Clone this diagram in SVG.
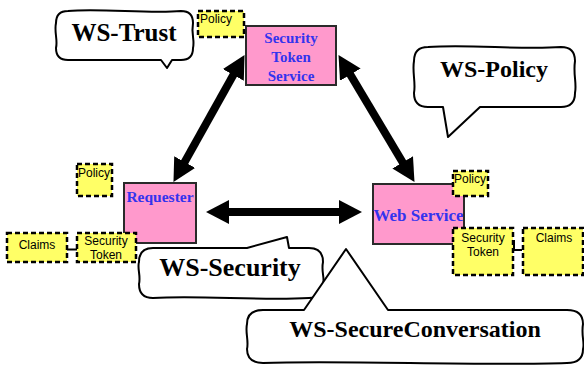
<svg xmlns="http://www.w3.org/2000/svg" width="584" height="365" viewBox="0 0 584 365">
  <defs>
    <marker id="head" viewBox="0 0 24 24" markerWidth="24" markerHeight="24" refX="1" refY="12" orient="auto-start-reverse" markerUnits="userSpaceOnUse">
      <path d="M0,0 L23,12 L0,24 Z" fill="#000"/>
    </marker>
    <style>
      .bubble { fill: #fff; stroke: #000; stroke-width: 2; stroke-linejoin: round; }
      .bubble-text { font-family: "Liberation Serif", "Times New Roman", serif; font-weight: bold; fill: #000; text-anchor: middle; }
      .node { fill: #ff99cc; stroke: #2a2a2a; stroke-width: 2; }
      .node-text { font-family: "Liberation Serif", "Times New Roman", serif; font-weight: bold; fill: #3333ee; text-anchor: middle; }
      .note { fill: #ffff66; stroke: #000; stroke-width: 2.5; stroke-dasharray: 5 3; }
      .note-text { font-family: "Liberation Sans", Arial, sans-serif; font-size: 12px; fill: #000; }
      .mid { text-anchor: middle; }
      .link { stroke: #000; stroke-width: 8; fill: none; marker-start: url(#head); marker-end: url(#head); }
      .tie { stroke: #000; stroke-width: 2; fill: none; }
    </style>
  </defs>

  <!-- speech bubbles naming the specifications -->
  <g id="ws-trust">
    <path class="bubble" d="M68,11 C100,8 150,14 181,11 Q193,11 193,23 C191,35 195,40 193,48 Q193,60 181,60 L172,60 L167,68 L161,60 L68,60 Q56,60 56,48 C58,40 54,32 56,23 Q56,11 68,11 Z"/>
    <text class="bubble-text" x="124" y="41" font-size="25">WS-Trust</text>
  </g>
  <g id="ws-policy">
    <path class="bubble" d="M428,47 C470,44 520,50 561,47 Q575,47 575,61 C573,75 577,83 575,93 Q575,107 561,107 L480,107 L448,137 L443,107 L428,107 Q414,107 414,93 C416,83 412,72 414,61 Q414,47 428,47 Z"/>
    <text class="bubble-text" x="494" y="77" font-size="24">WS-Policy</text>
  </g>
  <g id="ws-security">
    <path class="bubble" d="M153,248 L247,248 L287,237 L289,248 L309,248 Q323,248 323,262 C321,272 325,278 323,284 Q323,298 309,298 C260,301 200,295 153,298 Q139,298 139,284 C141,276 137,268 139,262 Q139,248 153,248 Z"/>
    <text class="bubble-text" x="230" y="276" font-size="26">WS-Security</text>
  </g>
  <g id="ws-secureconversation">
    <path class="bubble" d="M263,310 L304,310 L346,249 L388,310 L567,310 Q583,310 583,324 C581,336 585,343 583,349 Q583,363 567,363 C480,366 340,360 263,363 Q247,363 247,349 C249,341 245,332 247,324 Q247,310 263,310 Z"/>
    <text class="bubble-text" x="415" y="337" font-size="24">WS-SecureConversation</text>
  </g>

  <!-- message exchanges between the parties -->
  <g id="connectors">
    <line class="link" x1="233.8" y1="74.1" x2="184.2" y2="162.9"/>
    <line class="link" x1="349.8" y1="73.8" x2="403.2" y2="163.2"/>
    <line class="link" x1="228" y1="212" x2="340" y2="212"/>
    <line class="tie" x1="67" y1="249.5" x2="77" y2="249.5"/>
    <polyline class="tie" points="514,240 514,250 522,250"/>
  </g>

  <!-- parties -->
  <g id="sts">
    <rect class="node" x="246" y="26" width="90" height="59"/>
    <text class="node-text" font-size="15"><tspan x="291" y="43">Security</tspan><tspan x="291" y="62">Token</tspan><tspan x="291" y="81">Service</tspan></text>
  </g>
  <g id="requester">
    <rect class="node" x="124" y="183" width="72" height="60"/>
    <text class="node-text" x="160" y="202" font-size="15.5">Requester</text>
  </g>
  <g id="web-service">
    <rect class="node" x="373" y="184" width="91" height="60"/>
    <text class="node-text" x="418.5" y="221" font-size="17">Web Service</text>
  </g>

  <!-- policy, token and claims notes -->
  <g id="policy-sts">
    <rect class="note" x="198" y="11" width="46" height="26"/>
    <text class="note-text" x="200" y="23">Policy</text>
  </g>
  <g id="policy-requester">
    <rect class="note" x="77" y="164" width="35" height="32"/>
    <text class="note-text" x="78" y="177" font-size="11.5">Policy</text>
  </g>
  <g id="claims-requester">
    <rect class="note" x="7" y="233" width="60" height="29"/>
    <text class="note-text mid" x="37" y="249">Claims</text>
  </g>
  <g id="token-requester">
    <rect class="note" x="77" y="233" width="59" height="29"/>
    <text class="note-text mid"><tspan x="106" y="245">Security</tspan><tspan x="106" y="259">Token</tspan></text>
  </g>
  <g id="policy-service">
    <rect class="note" x="453" y="171" width="35" height="25"/>
    <text class="note-text" x="454" y="183" font-size="11.5">Policy</text>
  </g>
  <g id="token-service">
    <rect class="note" x="453" y="228" width="60" height="47"/>
    <text class="note-text mid"><tspan x="483" y="242">Security</tspan><tspan x="483" y="256">Token</tspan></text>
  </g>
  <g id="claims-service">
    <rect class="note" x="523" y="228" width="60" height="47"/>
    <text class="note-text mid" x="554" y="242">Claims</text>
  </g>
</svg>
